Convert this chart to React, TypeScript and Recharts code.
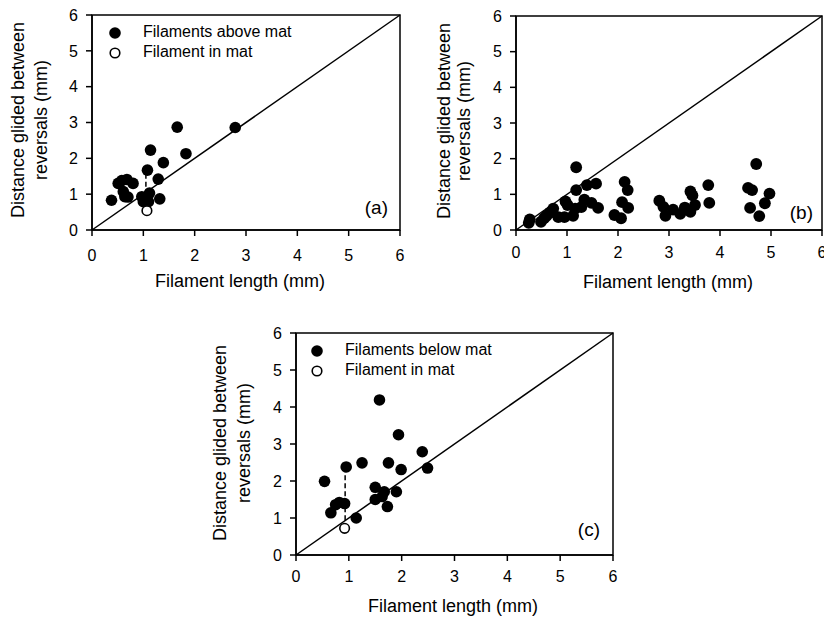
import React from 'react';
import { ScatterChart, Scatter, XAxis, YAxis, ReferenceLine, ReferenceArea } from 'recharts';

const FONT = 'Arial, "Liberation Sans", Helvetica, sans-serif';
const TICKS = [0, 1, 2, 3, 4, 5, 6];
const DIAGONAL = [{ x: 0, y: 0 }, { x: 6, y: 6 }];

// (a) filaments above the mat
const aAbove = [
  { x: 0.38, y: 0.83 }, { x: 0.51, y: 1.3 }, { x: 0.58, y: 1.38 }, { x: 0.68, y: 1.41 },
  { x: 0.8, y: 1.3 }, { x: 0.61, y: 1.07 }, { x: 0.64, y: 0.93 }, { x: 0.7, y: 0.92 },
  { x: 0.97, y: 0.93 }, { x: 1.0, y: 0.79 }, { x: 1.1, y: 0.79 }, { x: 1.12, y: 1.03 },
  { x: 1.08, y: 1.67 }, { x: 1.14, y: 2.23 }, { x: 1.29, y: 1.42 }, { x: 1.32, y: 0.87 },
  { x: 1.39, y: 1.88 }, { x: 1.66, y: 2.87 }, { x: 1.83, y: 2.13 }, { x: 2.79, y: 2.86 },
];
const aInMat = [{ x: 1.07, y: 0.54 }];
const aLink = [{ x: 1.05, y: 0.54 }, { x: 1.05, y: 1.67 }];

// (b) all filaments
const bAll = [
  { x: 0.25, y: 0.2 }, { x: 0.27, y: 0.3 }, { x: 0.49, y: 0.23 }, { x: 0.55, y: 0.33 },
  { x: 0.6, y: 0.4 }, { x: 0.67, y: 0.49 }, { x: 0.73, y: 0.6 }, { x: 0.83, y: 0.36 },
  { x: 0.95, y: 0.36 }, { x: 0.97, y: 0.8 }, { x: 1.01, y: 0.7 }, { x: 1.12, y: 0.4 },
  { x: 1.16, y: 0.6 }, { x: 1.18, y: 1.12 }, { x: 1.18, y: 1.76 }, { x: 1.28, y: 0.64 },
  { x: 1.34, y: 0.85 }, { x: 1.39, y: 1.26 }, { x: 1.48, y: 0.76 }, { x: 1.57, y: 1.3 },
  { x: 1.61, y: 0.62 }, { x: 1.93, y: 0.42 }, { x: 2.06, y: 0.33 }, { x: 2.08, y: 0.78 },
  { x: 2.13, y: 1.35 }, { x: 2.19, y: 1.12 }, { x: 2.2, y: 0.62 }, { x: 2.81, y: 0.82 },
  { x: 2.89, y: 0.65 }, { x: 2.93, y: 0.4 }, { x: 3.08, y: 0.57 }, { x: 3.22, y: 0.45 },
  { x: 3.31, y: 0.63 }, { x: 3.42, y: 1.08 }, { x: 3.46, y: 0.97 }, { x: 3.51, y: 0.7 },
  { x: 3.42, y: 0.51 }, { x: 3.77, y: 1.26 }, { x: 3.79, y: 0.76 }, { x: 4.55, y: 1.18 },
  { x: 4.63, y: 1.12 }, { x: 4.59, y: 0.62 }, { x: 4.71, y: 1.85 }, { x: 4.77, y: 0.39 },
  { x: 4.88, y: 0.75 }, { x: 4.97, y: 1.02 },
];

// (c) filaments below the mat
const cBelow = [
  { x: 0.54, y: 1.99 }, { x: 0.66, y: 1.14 }, { x: 0.75, y: 1.36 }, { x: 0.82, y: 1.42 },
  { x: 0.92, y: 1.39 }, { x: 0.95, y: 2.38 }, { x: 1.14, y: 1.0 }, { x: 1.25, y: 2.49 },
  { x: 1.5, y: 1.83 }, { x: 1.5, y: 1.5 }, { x: 1.58, y: 4.19 }, { x: 1.63, y: 1.58 },
  { x: 1.67, y: 1.71 }, { x: 1.73, y: 1.31 }, { x: 1.75, y: 2.49 }, { x: 1.9, y: 1.71 },
  { x: 1.94, y: 3.25 }, { x: 1.99, y: 2.31 }, { x: 2.39, y: 2.79 }, { x: 2.49, y: 2.35 },
];
const cInMat = [{ x: 0.92, y: 0.72 }];
const cLink = [{ x: 0.93, y: 0.72 }, { x: 0.93, y: 2.38 }];

const filledDot = (r: number) => (p: any) => <circle cx={p.cx} cy={p.cy} r={r} fill="#000" />;
const openDot = (p: any) => (
  <circle cx={p.cx} cy={p.cy} r={4.8} fill="#fff" stroke="#000" strokeWidth={1.6} />
);

const tickStyle = { fill: '#000', fontSize: 16, fontFamily: FONT };
const axisStroke = { stroke: '#000', strokeWidth: 1.5 };

function Panel(props: any) {
  const { left, top, width, height, margin, yWidth, xHeight, xTickMargin, dotR, filled, open, link, lab } = props;
  return (
    <div style={{ position: 'absolute', left, top, width, height }}>
      <ScatterChart width={width} height={height} margin={margin}>
        <XAxis
          type="number"
          dataKey="x"
          domain={[0, 6]}
          ticks={TICKS}
          interval={0}
          height={xHeight}
          tickSize={6}
          tickMargin={xTickMargin}
          axisLine={axisStroke}
          tickLine={axisStroke}
          tick={tickStyle}
        />
        <YAxis
          type="number"
          dataKey="y"
          domain={[0, 6]}
          ticks={TICKS}
          interval={0}
          width={yWidth}
          tickSize={6}
          tickMargin={8}
          axisLine={axisStroke}
          tickLine={axisStroke}
          tick={tickStyle}
        />
        <ReferenceArea x1={0} x2={6} y1={0} y2={6} fill="none" fillOpacity={0} stroke="#000" strokeWidth={1.5} />
        <ReferenceLine segment={DIAGONAL} stroke="#000" strokeWidth={1.5} />
        {link && <ReferenceLine segment={link} stroke="#000" strokeWidth={1.5} strokeDasharray="5 3" />}
        <Scatter data={filled} shape={filledDot(dotR)} isAnimationActive={false} />
        {open && <Scatter data={open} shape={openDot} isAnimationActive={false} />}
      </ScatterChart>
      <svg
        width={width}
        height={height}
        style={{ position: 'absolute', left: 0, top: 0, pointerEvents: 'none', overflow: 'visible' }}
        fontFamily={FONT}
      >
        <text transform={`translate(${lab.y1},${lab.yy}) rotate(-90)`} textAnchor="middle" dominantBaseline="middle" fontSize={18}>
          Distance glided between
        </text>
        <text transform={`translate(${lab.y2},${lab.yy}) rotate(-90)`} textAnchor="middle" dominantBaseline="middle" fontSize={18}>
          reversals (mm)
        </text>
        <text x={lab.xx} y={lab.xy} textAnchor="middle" dominantBaseline="middle" fontSize={18}>
          Filament length (mm)
        </text>
        <text x={lab.tagX} y={lab.tagY} textAnchor="end" dominantBaseline="middle" fontSize={19}>
          {lab.tag}
        </text>
        {lab.legend && (
          <g>
            <circle cx={lab.lgX} cy={lab.lgY} r={5.8} fill="#000" />
            <text x={lab.lgX + 28} y={lab.lgY} dominantBaseline="middle" fontSize={16}>{lab.legend}</text>
            <circle cx={lab.lgX} cy={lab.lgY + 20} r={4.8} fill="#fff" stroke="#000" strokeWidth={1.6} />
            <text x={lab.lgX + 28} y={lab.lgY + 20} dominantBaseline="middle" fontSize={16}>Filament in mat</text>
          </g>
        )}
      </svg>
    </div>
  );
}

export default function App() {
  return (
    <div style={{ position: 'absolute', left: 0, top: 0, width: 824, height: 622, background: '#fff', fontFamily: FONT }}>
      <Panel
        left={0} top={0} width={420} height={300}
        margin={{ top: 15, right: 20, bottom: 0, left: 0 }}
        yWidth={92} xHeight={70} xTickMargin={14} dotR={5.8}
        filled={aAbove} open={aInMat} link={aLink}
        lab={{ y1: 19, y2: 42, yy: 120, xx: 240, xy: 282, tag: '(a)', tagX: 388, tagY: 209, legend: 'Filaments above mat', lgX: 115, lgY: 33 }}
      />
      <Panel
        left={420} top={0} width={404} height={300}
        margin={{ top: 16, right: 2, bottom: 0, left: 0 }}
        yWidth={96} xHeight={70} xTickMargin={11} dotR={5.9}
        filled={bAll}
        lab={{ y1: 25, y2: 45, yy: 121, xx: 248, xy: 283, tag: '(b)', tagX: 393, tagY: 214 }}
      />
      <Panel
        left={200} top={300} width={440} height={322}
        margin={{ top: 33, right: 27, bottom: 0, left: 0 }}
        yWidth={96} xHeight={67} xTickMargin={10} dotR={5.8}
        filled={cBelow} open={cInMat} link={cLink}
        lab={{ y1: 21, y2: 45, yy: 143, xx: 253, xy: 307, tag: '(c)', tagX: 400, tagY: 231, legend: 'Filaments below mat', lgX: 117, lgY: 51 }}
      />
    </div>
  );
}
